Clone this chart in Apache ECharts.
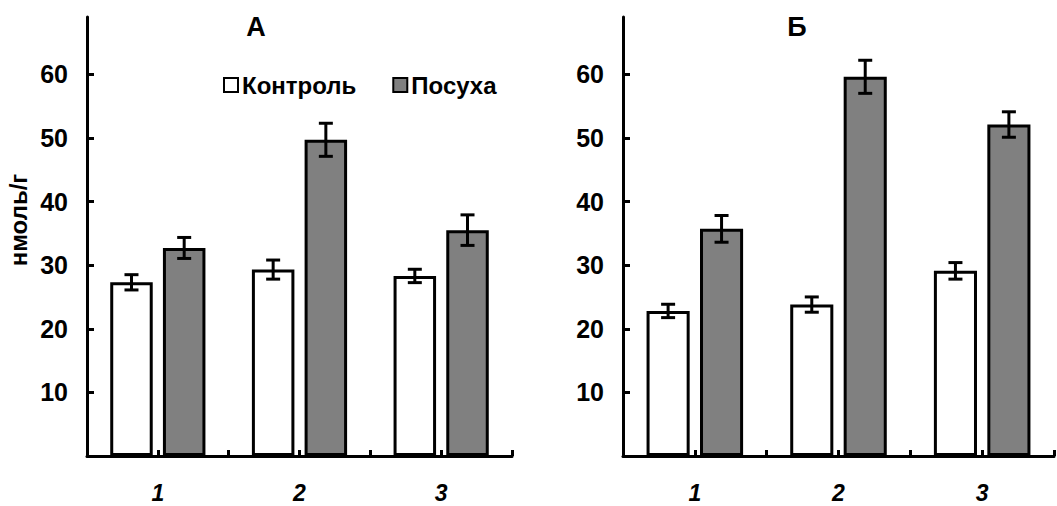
<!DOCTYPE html>
<html>
<head>
<meta charset="utf-8">
<script src="https://cdn.jsdelivr.net/npm/echarts@6/dist/echarts.min.js"></script>
<style>
html,body{margin:0;padding:0;background:#fff;}
#chart{width:1057px;height:506px;}
</style>
</head>
<body>
<div id="chart"></div>
<script>
// ---- data ----
const categories = ['1', '2', '3'];
const seriesNames = ['Контроль', 'Посуха'];
const panelTitles = ['А', 'Б'];
const yTicks = [10, 20, 30, 40, 50, 60];
const yAxisName = 'нмоль/г';

// panel A
const controlA = [27.3, 29.3, 28.3];
const controlAErr = [1.2, 1.5, 1.05];
const droughtA = [32.7, 49.7, 35.5];
const droughtAErr = [1.65, 2.6, 2.4];
// panel Б
const controlB = [22.8, 23.8, 29.1];
const controlBErr = [1.05, 1.2, 1.3];
const droughtB = [35.7, 59.6, 52.1];
const droughtBErr = [2.1, 2.6, 2.0];

// ---- style ----
const FONT = '"Liberation Sans", Arial, sans-serif';
const BAR_W = 0.30;   // fraction of band
const BAR_GAP = 0.24; // fraction of bar width
const colors = ['#ffffff', '#808080'];

const chart = echarts.init(document.getElementById('chart'), null, {renderer: 'svg'});

const grids = [
  {left: 87, top: 17, width: 425, bottom: 50, containLabel: false, outerBoundsMode: 'none'},
  {left: 623, top: 17, right: 3, bottom: 50, containLabel: false, outerBoundsMode: 'none'}
];

const xAxes = [];
const yAxes = [];
const series = [];
[0, 1].forEach(function (g) {
  xAxes.push({
    type: 'category', gridIndex: g, data: categories, position: 'bottom',
    axisLine: {lineStyle: {color: '#000', width: 3}},
    axisTick: {show: false},
    axisLabel: {color: '#000', fontFamily: FONT, fontWeight: 'bold', fontStyle: 'italic', fontSize: 23, lineHeight: 23, margin: 25}
  });
  // finer ticks (category boundaries and between paired bars)
  xAxes.push({
    type: 'category', gridIndex: g, position: 'bottom',
    data: categories.flatMap(function (c) { return [c + 'a', c + 'b']; }),
    axisLine: {show: false},
    axisTick: {show: true, inside: true, length: 6, lineStyle: {color: '#000', width: 3}},
    axisLabel: {show: false}
  });
  yAxes.push({
    type: 'value', gridIndex: g, min: 0, max: 69,
    axisLine: {show: true, lineStyle: {color: '#000', width: 3}},
    axisTick: {show: true, inside: true, length: 7, customValues: yTicks, lineStyle: {color: '#000', width: 3}},
    axisLabel: {customValues: yTicks, color: '#000', fontFamily: FONT, fontWeight: 'bold', fontSize: 25, margin: 19},
    splitLine: {show: false}
  });
});

const panelData = [
  [[controlA, controlAErr], [droughtA, droughtAErr]],
  [[controlB, controlBErr], [droughtB, droughtBErr]]
];

panelData.forEach(function (pd, g) {
  pd.forEach(function (sd, s) {
    series.push({
      name: seriesNames[s], type: 'bar',
      xAxisIndex: g * 2, yAxisIndex: g,
      data: sd[0],
      barWidth: (BAR_W * 100) + '%', barGap: (BAR_GAP * 100) + '%',
      itemStyle: {color: colors[s], borderColor: '#000', borderWidth: 3},
      emphasis: {disabled: true},
      z: 2
    });
  });
  pd.forEach(function (sd, s) {
    series.push({
      type: 'custom',
      xAxisIndex: g * 2, yAxisIndex: g,
      data: sd[0].map(function (v, i) { return [i, v, sd[1][i]]; }),
      z: 5, silent: true,
      renderItem: function (params, api) {
        const i = api.value(0), v = api.value(1), e = api.value(2);
        const band = api.size([1, 0])[0];
        const bw = band * BAR_W;
        const off = (bw + bw * BAR_GAP) / 2 * (s === 0 ? -1 : 1);
        const top = api.coord([i, v + e]);
        const bot = api.coord([i, v - e]);
        const x = top[0] + off;
        const cap = 7;
        const st = {stroke: '#000', lineWidth: 3, fill: null};
        return {type: 'group', children: [
          {type: 'line', shape: {x1: x, y1: top[1], x2: x, y2: bot[1]}, style: st},
          {type: 'line', shape: {x1: x - cap, y1: top[1], x2: x + cap, y2: top[1]}, style: st},
          {type: 'line', shape: {x1: x - cap, y1: bot[1], x2: x + cap, y2: bot[1]}, style: st}
        ]};
      }
    });
  });
});

chart.setOption({
  animation: false,
  backgroundColor: '#fff',
  grid: grids,
  xAxis: xAxes,
  yAxis: yAxes,
  legend: {
    data: seriesNames,
    left: 218, top: 68,
    icon: 'rect', itemWidth: 14, itemHeight: 14, itemGap: 36,
    textStyle: {color: '#000', fontFamily: FONT, fontWeight: 'bold', fontSize: 24, padding: [0, 0, 0, -1]}
  },
  graphic: [
    {type: 'text', x: 256, y: 27, style: {text: panelTitles[0], align: 'center', verticalAlign: 'middle', fill: '#000', font: 'bold 27px ' + FONT}},
    {type: 'text', x: 797, y: 27, style: {text: panelTitles[1], align: 'center', verticalAlign: 'middle', fill: '#000', font: 'bold 27px ' + FONT}},
    {type: 'text', x: 18, y: 220, rotation: Math.PI / 2, style: {text: yAxisName, align: 'center', verticalAlign: 'middle', fill: '#000', font: 'bold 24px ' + FONT}}
  ],
  series: series
});
</script>
</body>
</html>
